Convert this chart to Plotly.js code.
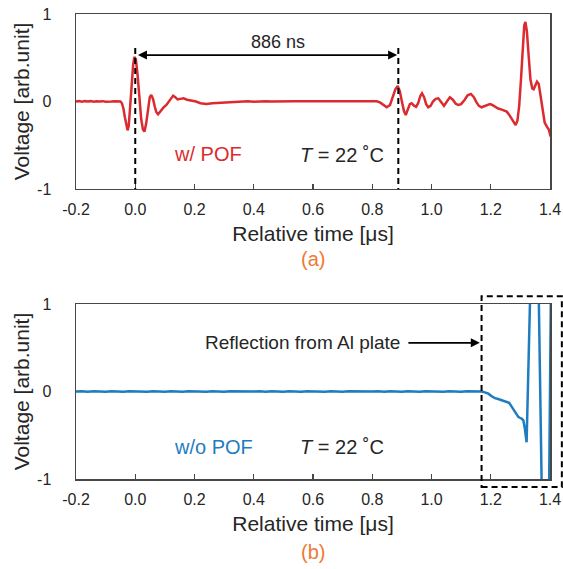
<!DOCTYPE html>
<html>
<head>
<meta charset="utf-8">
<script src="https://cdn.plot.ly/plotly-3.0.1.min.js"></script>
<style>html,body{margin:0;padding:0;background:#fff;}#chart{width:563px;height:569px;}</style>
</head>
<body>
<div id="chart"></div>
<script>
// (a) with POF: relative time [µs] and voltage [arb.unit]
const timeA = [-0.200,-0.190,-0.180,-0.170,-0.160,-0.150,-0.140,-0.130,-0.120,-0.110,-0.100,-0.090,-0.080,-0.070,-0.060,-0.050,
  -0.045,-0.040,-0.035,-0.030,-0.026,-0.022,-0.017,-0.012,-0.007,-0.003,0.002,0.008,0.014,0.020,0.026,0.031,0.037,0.043,0.049,0.054,
  0.060,0.066,0.071,0.077,0.085,0.095,0.105,0.115,0.122,0.128,0.135,0.143,0.152,0.163,0.175,0.190,0.205,0.220,0.240,0.260,0.280,
  0.300,0.320,0.340,0.360,0.380,0.400,0.420,0.440,0.460,0.480,0.500,0.520,0.540,0.560,0.580,0.600,0.620,0.640,0.660,0.680,0.700,
  0.720,0.740,0.760,0.780,0.800,0.815,0.826,0.838,0.849,0.860,0.870,0.878,0.886,0.893,0.900,0.907,0.913,0.920,0.927,0.933,0.940,
  0.948,0.955,0.962,0.968,0.975,0.982,0.989,0.997,1.005,1.014,1.023,1.032,1.042,1.052,1.062,1.072,1.082,1.090,1.100,1.112,1.122,
  1.133,1.143,1.152,1.160,1.169,1.180,1.190,1.197,1.205,1.215,1.225,1.235,1.245,1.254,1.262,1.270,1.278,1.284,1.290,1.296,1.302,
  1.308,1.313,1.317,1.322,1.328,1.334,1.340,1.345,1.350,1.356,1.362,1.368,1.375,1.382,1.390,1.396,1.402];
const voltA = [0.000,0.004,-0.003,0.004,0.000,0.004,-0.003,0.003,0.000,0.004,-0.002,0.003,0.000,0.004,-0.002,0.000,
  -0.020,-0.080,-0.180,-0.290,-0.330,-0.280,-0.050,0.220,0.420,0.510,0.480,0.300,0.020,-0.200,-0.320,-0.345,-0.250,-0.060,0.050,0.075,
  0.030,-0.060,-0.120,-0.145,-0.110,-0.070,-0.040,0.010,0.050,0.067,0.050,0.025,0.030,0.036,0.020,0.010,0.000,-0.020,-0.030,-0.020,-0.015,
  -0.010,-0.008,-0.004,0.000,0.003,-0.002,0.002,0.003,0.000,0.003,-0.002,0.002,0.004,0.002,0.003,0.000,0.003,0.004,0.002,0.003,0.002,
  0.004,0.002,0.003,0.003,0.004,0.002,-0.010,-0.040,-0.066,-0.040,0.050,0.140,0.177,0.120,0.000,-0.110,-0.154,-0.100,-0.030,-0.020,-0.045,
  -0.060,-0.020,0.060,0.093,0.050,-0.030,-0.066,-0.050,0.000,0.030,0.036,0.000,-0.050,0.000,0.047,0.020,-0.025,-0.040,-0.030,0.020,0.070,
  0.086,0.050,-0.010,-0.050,-0.066,-0.050,-0.035,-0.030,-0.040,-0.060,-0.080,-0.090,-0.100,-0.116,-0.150,-0.200,-0.250,-0.270,-0.220,-0.050,0.250,
  0.620,0.870,0.910,0.800,0.520,0.250,0.150,0.140,0.180,0.226,0.200,0.050,-0.120,-0.240,-0.290,-0.320,-0.400];

// (b) without POF
const timeB = [-0.200,-0.180,-0.160,-0.140,-0.120,-0.100,-0.080,-0.060,-0.040,-0.020,0.000,0.020,0.040,0.060,0.080,0.100,0.120,0.140,
  0.160,0.180,0.200,0.220,0.240,0.260,0.280,0.300,0.320,0.340,0.360,0.380,0.400,0.420,0.440,0.460,0.480,0.500,0.520,0.540,0.560,
  0.580,0.600,0.620,0.640,0.660,0.680,0.700,0.720,0.740,0.760,0.780,0.800,0.820,0.840,0.860,0.880,0.900,0.920,0.940,0.960,0.980,
  1.000,1.020,1.040,1.060,1.080,1.100,1.120,1.140,1.160,1.169,1.180,1.192,1.203,1.214,1.225,1.237,1.246,1.254,1.262,1.270,1.279,
  1.287,1.293,1.298,1.304,1.310,1.315,1.321,1.333,1.362,1.372,1.397,1.403];
const voltB = [0.000,0.004,-0.003,0.004,0.000,-0.003,0.004,0.002,-0.003,0.004,0.000,0.003,-0.003,0.004,0.000,-0.003,0.004,0.002,
  -0.003,0.004,0.000,0.003,-0.004,0.004,0.000,-0.003,0.004,0.002,-0.003,0.003,0.000,0.004,-0.003,0.004,0.000,-0.003,0.004,0.002,
  -0.003,0.004,0.000,0.003,-0.004,0.004,0.000,-0.003,0.004,0.002,-0.003,0.003,0.000,0.004,-0.003,0.004,0.000,-0.003,0.004,0.002,
  -0.003,0.004,0.000,0.003,-0.003,0.004,0.000,-0.003,0.004,0.002,0.000,0.000,-0.010,-0.025,-0.055,-0.076,-0.085,-0.100,-0.106,-0.114,
  -0.130,-0.170,-0.215,-0.270,-0.290,-0.300,-0.310,-0.330,-0.420,-0.580,1.100,1.100,-1.100,-1.100,1.100];

const xTicks = [-0.2,0.0,0.2,0.4,0.6,0.8,1.0,1.2,1.4];
const xTickText = ['-0.2','0.0','0.2','0.4','0.6','0.8','1.0','1.2','1.4'];
const yTicks = [-1,0,1];
const yTickText = ['-1','0','1'];
const delayNs = 886;
const echoTime = 0.888;
const reflectStart = 1.169;

const RED = '#DB2B30', BLUE = '#1F7CBF', ORANGE = '#EE7A35', TXT = '#262626', AX = '#474747';
const FONT = 'Liberation Sans, Arial, sans-serif';

const data = [
  {x: timeA, y: voltA, xaxis: 'x', yaxis: 'y', mode: 'lines', line: {color: RED, width: 2.5}, hoverinfo: 'skip'},
  {x: timeB, y: voltB, xaxis: 'x2', yaxis: 'y2', mode: 'lines', line: {color: BLUE, width: 2.5}, hoverinfo: 'skip'}
];

function xax(anchor) {
  return {
    anchor: anchor, range: [-0.2, 1.4], tickvals: xTicks, ticktext: xTickText,
    ticks: 'inside', ticklen: 5, tickwidth: 1.2, tickcolor: AX,
    showline: true, linecolor: AX, linewidth: 1.5, mirror: true, showgrid: false, zeroline: false,
    tickfont: {family: FONT, size: 16, color: TXT}, ticklabelstandoff: 5,
    title: {text: 'Relative time [μs]', font: {family: FONT, size: 21, color: TXT}, standoff: 9}
  };
}
function yax(anchor, domain) {
  return {
    anchor: anchor, domain: domain, range: [-1, 1], tickvals: yTicks, ticktext: yTickText,
    ticks: '', showline: true, linecolor: AX, linewidth: 1.5, mirror: true, showgrid: false, zeroline: false,
    tickfont: {family: FONT, size: 16, color: TXT}, ticklabelstandoff: 20,
    title: {text: 'Voltage [arb.unit]', font: {family: FONT, size: 21, color: TXT}, standoff: 1}
  };
}

const dash = '6px,4px';
const layout = {
  width: 563, height: 569,
  margin: {l: 76, r: 13, t: 14, b: 90},
  paper_bgcolor: '#fff', plot_bgcolor: '#fff', showlegend: false,
  xaxis: xax('y'), yaxis: yax('x', [0.6237, 1]),
  xaxis2: xax('y2'), yaxis2: yax('x2', [0, 0.3763]),
  shapes: [
    {type: 'line', xref: 'x', yref: 'y', x0: 0, x1: 0, y0: 0.61, y1: -1, line: {color: '#000', width: 2, dash: dash}},
    {type: 'line', xref: 'x', yref: 'y', x0: echoTime, x1: echoTime, y0: 0.61, y1: -1, line: {color: '#000', width: 2, dash: dash}},
    {type: 'rect', xref: 'paper', yref: 'paper', x0: (reflectStart + 0.2) / 1.6, x1: 1.025, y0: -0.017, y1: 0.393,
      line: {color: '#000', width: 2, dash: dash}, fillcolor: 'rgba(0,0,0,0)'}
  ],
  annotations: [
    {xref: 'x', yref: 'y', x: echoTime - 0.004, y: 0.53, ax: 0.004, ay: 0.53, axref: 'x', ayref: 'y', text: '',
      showarrow: true, arrowhead: 2, startarrowhead: 2, arrowside: 'end+start', arrowsize: 1, arrowwidth: 1.8, arrowcolor: '#000'},
    {xref: 'x', yref: 'y', x: 0.483, y: 0.68, text: delayNs + ' ns', showarrow: false,
      font: {family: FONT, size: 18, color: TXT}},
    {xref: 'x', yref: 'y', x: 0.247, y: -0.6, text: 'w/ POF', showarrow: false, font: {family: FONT, size: 20, color: RED}},
    {xref: 'x', yref: 'y', x: 0.697, y: -0.61, text: '<i>T</i> = 22 ˚C', showarrow: false, font: {family: FONT, size: 20, color: TXT}},
    {xref: 'paper', yref: 'paper', x: 0.5, y: 0.474, yanchor: 'middle', text: '(a)', showarrow: false,
      font: {family: FONT, size: 20, color: ORANGE}},
    {xref: 'x2', yref: 'y2', x: reflectStart - 0.006, y: 0.557, ax: 0.917, ay: 0.557, axref: 'x2', ayref: 'y2', text: '',
      showarrow: true, arrowhead: 2, arrowsize: 1, arrowwidth: 1.8, arrowcolor: '#000'},
    {xref: 'x2', yref: 'y2', x: 0.9, y: 0.557, xanchor: 'right', text: 'Reflection from Al plate', showarrow: false,
      font: {family: FONT, size: 19, color: TXT}},
    {xref: 'x2', yref: 'y2', x: 0.264, y: -0.63, text: 'w/o POF', showarrow: false, font: {family: FONT, size: 20, color: BLUE}},
    {xref: 'x2', yref: 'y2', x: 0.697, y: -0.63, text: '<i>T</i> = 22 ˚C', showarrow: false, font: {family: FONT, size: 20, color: TXT}},
    {xref: 'paper', yref: 'paper', x: 0.5, y: -0.158, yanchor: 'middle', text: '(b)', showarrow: false,
      font: {family: FONT, size: 20, color: ORANGE}}
  ]
};

Plotly.newPlot('chart', data, layout, {staticPlot: true, displayModeBar: false});
</script>
</body>
</html>
